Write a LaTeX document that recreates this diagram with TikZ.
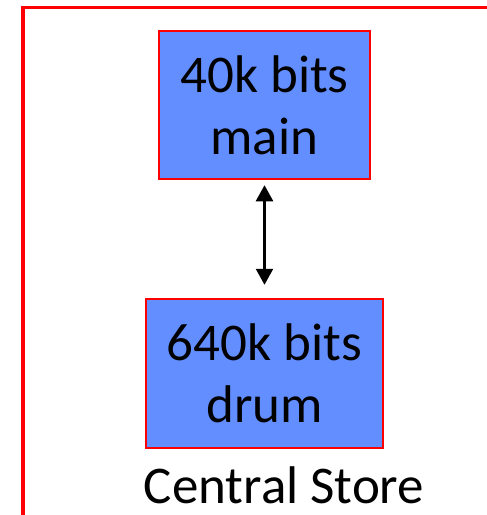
\documentclass[tikz,border=0pt]{standalone}
\usepackage{fontspec}
\setmainfont{Carlito}
\usetikzlibrary{arrows.meta}
\definecolor{boxblue}{RGB}{99,142,255}
\definecolor{framered}{RGB}{255,0,0}
\tikzset{
  membox/.style={draw=framered, line width=2.5pt, fill=boxblue, inner sep=0pt,
    align=center, font=\fontsize{53}{62}\selectfont},
  caption/.style={font=\fontsize{53}{62}\selectfont, inner sep=0pt, anchor=base},
  link/.style={line width=2.5pt, {Triangle[width=17pt,length=16pt]}-{Triangle[width=17pt,length=16pt]}},
  frame/.style={draw=framered, line width=3.2pt}
}
\begin{document}
\begin{tikzpicture}[x=1pt,y=-1pt]
\useasboundingbox (0,0) rectangle (487,515);
\coordinate (ftr) at (490,7.5);
\coordinate (ftl) at (23,7.5);
\coordinate (fbl) at (23,518);
\draw[frame] (ftr) -- (ftl) -- (fbl);
\node[membox, minimum width=211pt, minimum height=148pt] (main) at (264.5,105) {40k bits\\main};
\node[membox, minimum width=237pt, minimum height=149pt] (drum) at (264.5,373.5) {640k bits\\drum};
\node[caption] (cs) at (284,503) {Central Store};
\draw[link, shorten <=5pt, shorten >=13pt] (main.south) -- (drum.north);
\end{tikzpicture}
\end{document}
